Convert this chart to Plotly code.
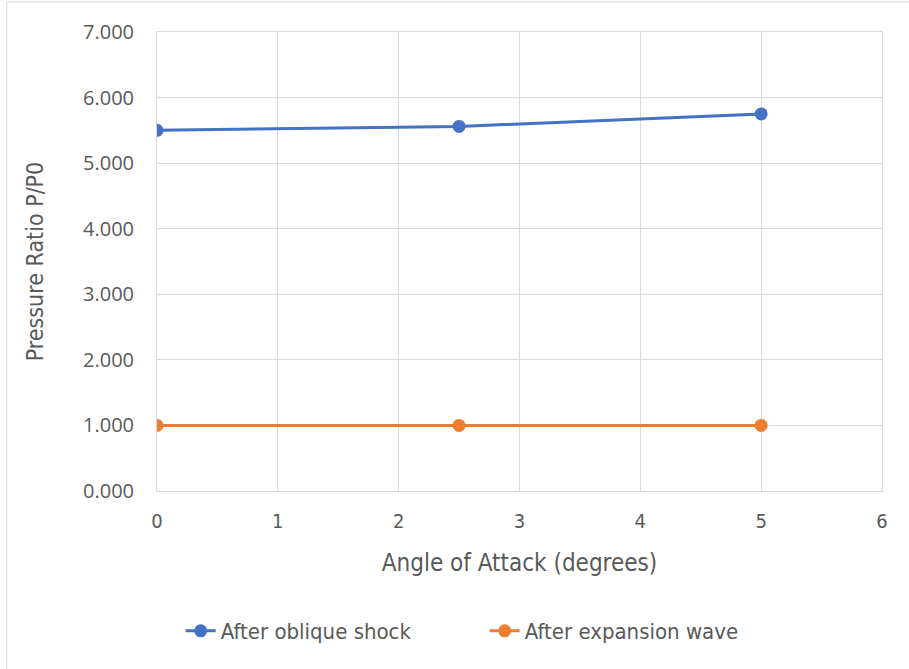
import plotly.graph_objects as go

# Angle of attack (degrees) and pressure ratios
angles = [0, 2.5, 5]
after_oblique_shock = [5.50, 5.56, 5.75]
after_expansion_wave = [1.00, 1.00, 1.00]

x_ticks = [0, 1, 2, 3, 4, 5, 6]
y_ticks = [0, 1, 2, 3, 4, 5, 6, 7]
y_tick_text = [f"{v:.3f}" for v in y_ticks]

BLUE = "#4472C4"
ORANGE = "#ED7D31"
TEXT = "#595959"
GRID = "#D9D9D9"
NARROW = "DejaVu Sans Condensed, Roboto, sans-serif"
WIDE = "Open Sans, DejaVu Sans, sans-serif"

fig = go.Figure()
fig.add_trace(go.Scatter(
    x=angles, y=after_oblique_shock, name="After oblique shock",
    mode="lines+markers",
    line=dict(color=BLUE, width=3),
    marker=dict(color=BLUE, size=13),
))
fig.add_trace(go.Scatter(
    x=angles, y=after_expansion_wave, name="After expansion wave",
    mode="lines+markers",
    line=dict(color=ORANGE, width=3),
    marker=dict(color=ORANGE, size=13),
))

fig.update_layout(
    width=909, height=669,
    margin=dict(l=157, r=27, t=32, b=178),
    paper_bgcolor="white", plot_bgcolor="white",
    showlegend=True,
    legend=dict(
        orientation="h", x=0.452, xanchor="center", y=-0.305, yanchor="middle",
        font=dict(family=NARROW, size=22, color=TEXT),
        entrywidth=259, entrywidthmode="pixels",
        tracegroupgap=0,
    ),
    xaxis=dict(
        range=[0, 6], tickvals=x_ticks, ticktext=[str(v) for v in x_ticks],
        showgrid=True, gridcolor=GRID, gridwidth=1,
        showline=True, linecolor=GRID, linewidth=1, mirror=True,
        zeroline=False, ticks="", ticklabelstandoff=12,
        tickfont=dict(family=NARROW, size=20, color=TEXT),
        title=dict(text="Angle of Attack (degrees)", standoff=22,
                   font=dict(family=NARROW, size=24, color=TEXT)),
    ),
    yaxis=dict(
        range=[0, 7], tickvals=y_ticks, ticktext=y_tick_text,
        showgrid=True, gridcolor=GRID, gridwidth=1,
        showline=True, linecolor=GRID, linewidth=1, mirror=True,
        zeroline=False, ticks="", ticklabelstandoff=18,
        tickfont=dict(family=WIDE, size=20, color=TEXT),
        title=dict(text="Pressure Ratio P/P0", standoff=32,
                   font=dict(family=NARROW, size=23, color=TEXT)),
    ),
    shapes=[
        dict(type="rect", xref="paper", yref="paper", x0=-0.2072, x1=1.2, y0=-1.0, y1=1.0658,
             line=dict(color="#D9D9D9", width=1), fillcolor="rgba(0,0,0,0)", layer="below"),
    ],
)

fig.write_html("out.html")
